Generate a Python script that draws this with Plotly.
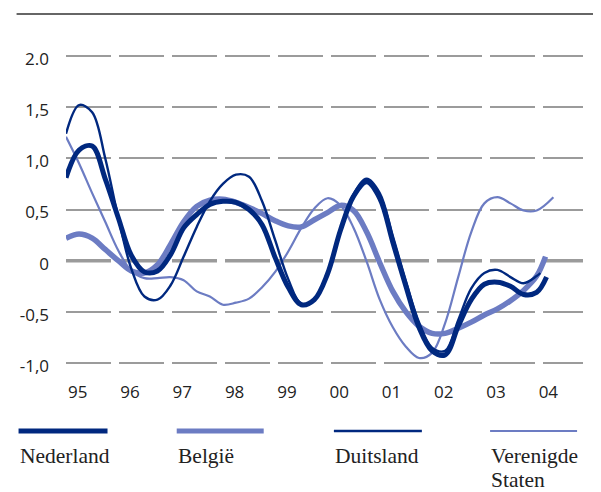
import plotly.graph_objects as go

# ---- data (quarterly, 1995.00 .. 2004.00) ----
quarters = [1995 + 0.25 * k for k in range(37)]
years = list(range(1995, 2005))
year_labels = ["95", "96", "97", "98", "99", "00", "01", "02", "03", "04"]

nederland = [0.81, 1.08, 1.12, 0.80, 0.42, 0.05, -0.11, -0.10, 0.06, 0.32,
             0.45, 0.55, 0.58, 0.57, 0.50, 0.35, 0.03, -0.26, -0.43, -0.38,
             -0.13, 0.30, 0.63, 0.77, 0.61, 0.18, -0.25, -0.65, -0.88, -0.92,
             -0.64, -0.38, -0.23, -0.21, -0.25, -0.33, -0.31]
nederland_end = (2004.19, -0.16)

belgie = [0.22, 0.26, 0.22, 0.11, 0.00, -0.10, -0.12, -0.04, 0.16, 0.38,
          0.53, 0.59, 0.60, 0.57, 0.52, 0.46, 0.39, 0.34, 0.33, 0.40,
          0.47, 0.54, 0.49, 0.28, -0.02, -0.30, -0.50, -0.64, -0.71, -0.71,
          -0.66, -0.60, -0.53, -0.47, -0.39, -0.29, -0.15]
belgie_end = (2004.17, 0.04)

duitsland = [1.24, 1.52, 1.45, 1.00, 0.42, -0.08, -0.35, -0.38, -0.24, 0.04,
             0.33, 0.58, 0.75, 0.84, 0.82, 0.58, 0.20, -0.18, -0.42, -0.38,
             -0.12, 0.30, 0.65, 0.80, 0.66, 0.24, -0.20, -0.60, -0.85, -0.88,
             -0.58, -0.27, -0.12, -0.09, -0.16, -0.22, -0.15]
duitsland_end = (2004.07, -0.12)

verenigde_staten = [1.21, 0.95, 0.66, 0.38, 0.10, -0.10, -0.17, -0.17, -0.16, -0.19,
                    -0.30, -0.35, -0.43, -0.41, -0.37, -0.26, -0.11, 0.09, 0.32, 0.51,
                    0.61, 0.54, 0.32, -0.01, -0.38, -0.65, -0.84, -0.95, -0.90, -0.61,
                    -0.16, 0.28, 0.56, 0.62, 0.56, 0.49, 0.49]
verenigde_staten_end = (2004.32, 0.62)

y_ticks = [-1.0, -0.5, 0.0, 0.5, 1.0, 1.5, 2.0]
y_tick_labels = ["-1,0", "-0,5", "0", "0,5", "1,0", "1,5", "2.0"]

# ---- styling ----
DARK = "#00287f"
LIGHT = "#6c7cc3"
GRID = "#9b9b9b"

PAGE_OFFSET = 8          # default body margin of the html page
W, H = 601 - PAGE_OFFSET, 492 - PAGE_OFFSET
L, T = 60 - PAGE_OFFSET, 40 - PAGE_OFFSET
plot_w, plot_h = 523, 330
R = W - L - plot_w
B = H - T - plot_h


def px_to_paper(px, py):
    """reference-window pixels -> paper coordinates"""
    px -= PAGE_OFFSET
    py -= PAGE_OFFSET
    return (px - L) / plot_w, (T + plot_h - py) / plot_h


series = [
    ("België", belgie, belgie_end, LIGHT, 5.5),
    ("Verenigde Staten", verenigde_staten, verenigde_staten_end, LIGHT, 2.2),
    ("Duitsland", duitsland, duitsland_end, DARK, 2.4),
    ("Nederland", nederland, nederland_end, DARK, 5),
]

fig = go.Figure()
for name, vals, end, color, width in series:
    fig.add_trace(go.Scatter(
        x=quarters + [end[0]], y=vals + [end[1]], mode="lines", name=name,
        line=dict(color=color, width=width, shape="spline", smoothing=1.0),
        cliponaxis=False, showlegend=False, hoverinfo="skip"))

shapes = []
# zero line (thicker, dashed)
shapes.append(dict(type="line", xref="paper", yref="y", x0=0, x1=1, y0=0, y1=0,
                   line=dict(color=GRID, width=3.5, dash="45px,8px"), layer="below"))
# top rule
x0p, y0p = px_to_paper(10, 14)
x1p, _ = px_to_paper(601, 14)
shapes.append(dict(type="line", xref="paper", yref="paper", x0=x0p, x1=x1p, y0=y0p, y1=y0p,
                   line=dict(color="#333333", width=1.5)))

# legend (custom layout: line sample above label lines)
legend_items = [
    (["Nederland"], DARK, 5, 12, 102),
    (["België"], LIGHT, 5, 172, 260),
    (["Duitsland"], DARK, 2.7, 331, 420),
    (["Verenigde", "Staten"], LIGHT, 2.2, 489, 577),
]
annotations = []
for lines, color, width, xa, xb in legend_items:
    ax, ay = px_to_paper(xa, 431)
    bx, _ = px_to_paper(xb, 431)
    shapes.append(dict(type="line", xref="paper", yref="paper", x0=ax, x1=bx, y0=ay, y1=ay,
                       line=dict(color=color, width=width)))
    for i, text in enumerate(lines):
        tx, ty = px_to_paper(xa - 1, 442 + 24 * i)
        annotations.append(dict(text=text, xref="paper", yref="paper", x=tx, y=ty,
                                xanchor="left", yanchor="top", align="left", showarrow=False,
                                font=dict(family="Liberation Serif", size=21.5, color="#222222")))

fig.update_layout(
    width=W, height=H, autosize=False,
    margin=dict(l=L, r=R, t=T, b=B),
    paper_bgcolor="white", plot_bgcolor="white",
    shapes=shapes, annotations=annotations,
    xaxis=dict(range=[1995, 1995 + plot_w / 52.9], tickvals=years, ticktext=year_labels,
               ticklabelposition="outside right", ticklabelshift=2,
               showgrid=False, zeroline=False,
               showline=False, ticks="", ticklabelstandoff=10,
               tickfont=dict(family="Open Sans", size=17, color="#222222")),
    yaxis=dict(range=[(260.7 - (T + plot_h + PAGE_OFFSET)) / 102.4,
                      (260.7 - (T + PAGE_OFFSET)) / 102.4],
               tickvals=y_ticks, ticktext=y_tick_labels,
               showgrid=True, gridcolor=GRID, gridwidth=2, griddash="45px,8px",
               zeroline=False, showline=False, ticks="", ticklabelstandoff=16,
               ticklabelshift=3,
               tickfont=dict(family="Open Sans", size=17, color="#222222")),
)

fig.write_html("out.html")
